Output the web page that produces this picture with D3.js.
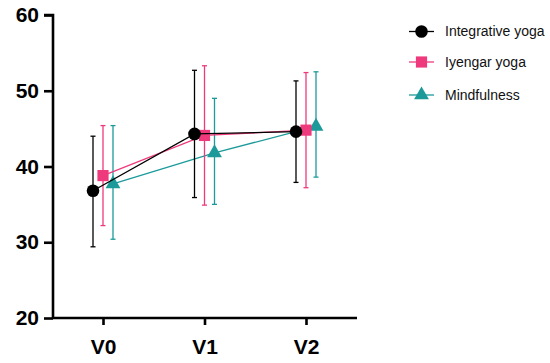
<!DOCTYPE html>
<html>
<head>
<meta charset="utf-8">
<script src="https://cdn.jsdelivr.net/npm/d3@7"></script>
<style>
	body { margin:0; background:#fff; }
	svg { display:block; font-family: "Liberation Sans", Arial, sans-serif; }
</style>
</head>
<body>
<svg id="svg" width="550" height="363"></svg>
<script>
// data
const visits = ["V0", "V1", "V2"];
const groups = ["Integrative yoga", "Iyengar yoga", "Mindfulness"];
const colors = ["#000000", "#ee3a7c", "#1c9a9a"];
const symbols = [d3.symbolCircle, d3.symbolSquare, d3.symbolTriangle];
const means = [
	[36.8, 44.3, 44.6],
	[38.8, 44.1, 44.8],
	[37.7, 41.8, 45.3]
];
const upper = [
	[44.0, 52.7, 51.3],
	[45.4, 53.3, 52.4],
	[45.4, 49.0, 52.5]
];
const lower = [
	[29.4, 35.9, 37.9],
	[32.2, 34.9, 37.2],
	[30.4, 35.0, 38.6]
];
const yTicks = [20, 30, 40, 50, 60];

const svg = d3.select("#svg");

const xScale = d3.scalePoint()
	.domain(visits)
	.range([103, 306]);
const yScale = d3.scaleLinear()
	.domain([20, 60])
	.range([318, 15]);
const offset = d3.scalePoint()
	.domain(groups)
	.range([-10, 10]);

// y axis
const yAxis = d3.axisLeft(yScale).tickValues(yTicks).tickSize(9).tickPadding(5);
const gy = svg.append("g")
	.attr("transform", "translate(53,0)")
	.call(yAxis);
gy.select(".domain").attr("d", "M-9,15H0V318");

// x axis
const xAxis = d3.axisBottom(xScale).tickSize(7).tickPadding(13);
const gx = svg.append("g")
	.attr("transform", "translate(0,318)")
	.call(xAxis);
gx.select(".domain").attr("d", "M53,0H357");

svg.selectAll(".domain, .tick line")
	.attr("stroke", "#000")
	.attr("stroke-width", 2.6);
svg.selectAll(".tick text")
	.attr("fill", "#000")
	.attr("font-size", 21)
	.attr("font-weight", "bold");
gx.selectAll(".tick text").attr("dy", "0.75em");

// series, drawn back to front so black sits on top
const order = [2, 1, 0];
order.forEach(function(s) {
	const g = svg.append("g");
	const col = colors[s];
	const px = (i) => xScale(visits[i]) + offset(groups[s]);

	// error bars
	visits.forEach(function(v, i) {
		const x = px(i);
		g.append("line")
			.attr("x1", x).attr("x2", x)
			.attr("y1", yScale(upper[s][i])).attr("y2", yScale(lower[s][i]))
			.attr("stroke", col).attr("stroke-width", 1.3);
		[upper[s][i], lower[s][i]].forEach(function(val) {
			g.append("line")
				.attr("x1", x - 2.5).attr("x2", x + 2.5)
				.attr("y1", yScale(val)).attr("y2", yScale(val))
				.attr("stroke", col).attr("stroke-width", 1.3);
		});
	});

	// connecting line
	const line = d3.line()
		.x((d, i) => px(i))
		.y((d) => yScale(d));
	g.append("path")
		.datum(means[s])
		.attr("d", line)
		.attr("fill", "none")
		.attr("stroke", col)
		.attr("stroke-width", 1.3);

	// markers
	g.selectAll("path.mark")
		.data(means[s])
		.enter().append("path")
		.attr("class", "mark")
		.attr("transform", (d, i) => `translate(${px(i)},${yScale(d)})`)
		.attr("d", d3.symbol().type(symbols[s]).size(s === 2 ? 95 : 125))
		.attr("fill", col);
});

// legend
const legend = svg.append("g");
groups.forEach(function(name, s) {
	const y = [31.5, 62, 95][s];
	legend.append("line")
		.attr("x1", 409).attr("x2", 434)
		.attr("y1", y).attr("y2", y)
		.attr("stroke", colors[s]).attr("stroke-width", 1.3);
	legend.append("path")
		.attr("transform", `translate(421.5,${y})`)
		.attr("d", d3.symbol().type(symbols[s]).size(s === 2 ? 95 : 125))
		.attr("fill", colors[s]);
	legend.append("text")
		.attr("x", 445).attr("y", y)
		.attr("dy", "0.35em")
		.attr("font-size", 14)
		.attr("fill", "#111")
		.text(name);
});
</script>
</body>
</html>
